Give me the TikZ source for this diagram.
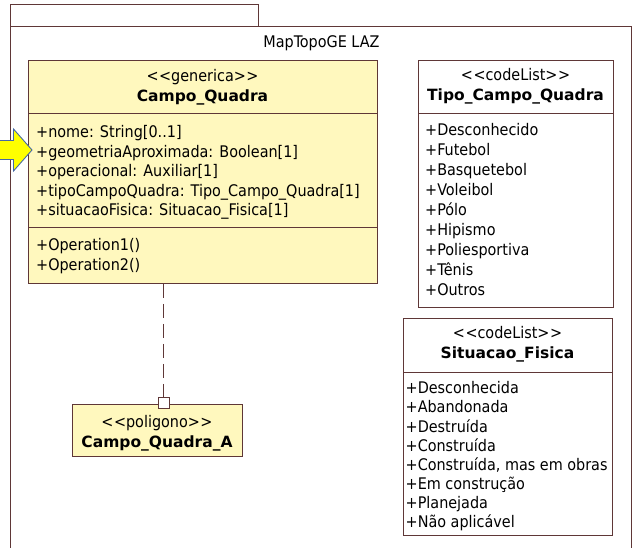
\documentclass[tikz,border=0pt]{standalone}
\usepackage{fontspec}
\setmainfont{DejaVu Sans Condensed}[BoldFont={DejaVu Sans Bold}]
\definecolor{umlline}{RGB}{95,55,55}
\definecolor{umlfill}{RGB}{255,248,190}
\definecolor{arrowfill}{RGB}{255,255,0}
\definecolor{arrowline}{RGB}{70,105,165}
\newcommand{\fst}{\rule{0pt}{14pt}}
\tikzset{
  box/.style={draw=umlline, line width=0.9pt, inner sep=0pt},
  ybox/.style={box, fill=umlfill},
  wbox/.style={box, fill=white},
  txt/.style={inner sep=0pt, align=left, anchor=north west, font=\fontsize{16}{19.5}\selectfont},
  ctxt/.style={inner sep=0pt, anchor=base, font=\fontsize{16}{19.5}\selectfont},
  ntxt/.style={inner sep=0pt, anchor=base, font=\fontsize{15.5}{19.5}\selectfont\bfseries},
}
\begin{document}
\begin{tikzpicture}[x=1pt,y=-1pt]
\useasboundingbox (0,0) rectangle (635,548);
\clip (0,0) rectangle (635,548);
% package
\draw[umlline, line width=0.9pt] (10,4) rectangle (258,26);
\draw[umlline, line width=0.9pt] (10,560) -- (10,26) -- (631,26) -- (631,560);
\node[ctxt] (pkg) at (321.5,48) {MapTopoGE LAZ};

% Campo_Quadra
\node[ybox, minimum width=349pt, minimum height=53pt, anchor=north west] (cqh) at (28,60) {};
\node[ybox, minimum width=349pt, minimum height=114pt, anchor=north west] (cqa) at (28,113) {};
\node[ybox, minimum width=349pt, minimum height=56pt, anchor=north west] (cqo) at (28,227) {};
\node[ctxt] (cqs) at (202.5,81.5) {<\kern0.5pt<generica>\kern0.5pt>};
\node[ntxt] (cqn) at (202.5,101.5) {Campo\_Quadra};
\node[txt] (cqat) at (36,123.5) {\fst+nome: String[0..1]\\+geometriaAproximada: Boolean[1]\\+operacional: Auxiliar[1]\\+tipoCampoQuadra: Tipo\_Campo\_Quadra[1]\\+situacaoFisica: Situacao\_Fisica[1]};
\node[txt] (cqot) at (36,236.5) {\fst+Operation1()\\+Operation2()};

% Campo_Quadra_A
\node[ybox, minimum width=170pt, minimum height=52pt, anchor=north west] (cqA) at (72,404) {};
\node[ctxt] (cqAs) at (157,427.5) {<\kern0.5pt<poligono>\kern0.5pt>};
\node[ntxt] (cqAn) at (157,447.5) {Campo\_Quadra\_A};
\coordinate (sq) at (163.5,402.5);
\draw[umlline, line width=0.9pt, dash pattern=on 14pt off 6pt] (cqo.south -| sq) -- ([yshift=-5.5pt]sq);
\node[wbox, minimum size=11pt] (sqn) at (sq) {};

% Tipo_Campo_Quadra
\node[wbox, minimum width=195pt, minimum height=53pt, anchor=north west] (tch) at (418,60) {};
\node[wbox, minimum width=195pt, minimum height=194pt, anchor=north west] (tca) at (418,113) {};
\node[ctxt] (tcs) at (515.5,81) {<\kern0.5pt<codeList>\kern0.5pt>};
\node[ntxt] (tcn) at (515.5,101) {Tipo\_Campo\_Quadra};
\node[txt, font=\fontsize{16}{20}\selectfont] (tcat) at (425,121.5) {\fst+Desconhecido\\+Futebol\\+Basquetebol\\+Voleibol\\+Pólo\\+Hipismo\\+Poliesportiva\\+Tênis\\+Outros};

% Situacao_Fisica
\node[wbox, minimum width=209pt, minimum height=217pt, anchor=north west] (sfb) at (403,318) {};
\draw[umlline, line width=0.9pt] (403,372) -- (612,372);
\node[ctxt] (sfs) at (507.5,338.5) {<\kern0.5pt<codeList>\kern0.5pt>};
\node[ntxt] (sfn) at (507.5,358.5) {Situacao\_Fisica};
\node[txt, font=\fontsize{16}{19.15}\selectfont] (sfat) at (405.5,379.5) {\fst+Desconhecida\\+Abandonada\\+Destruída\\+Construída\\+Construída, mas em obras\\+Em construção\\+Planejada\\+Não aplicável};

% highlight arrow
\draw[draw=arrowline, fill=arrowfill, line width=0.9pt, line join=miter]
  (-2,140.5) -- (13.5,140.5) -- (13.5,129) -- (32,150) -- (13.5,171) -- (13.5,159.5) -- (-2,159.5) -- cycle;
\end{tikzpicture}
\end{document}
